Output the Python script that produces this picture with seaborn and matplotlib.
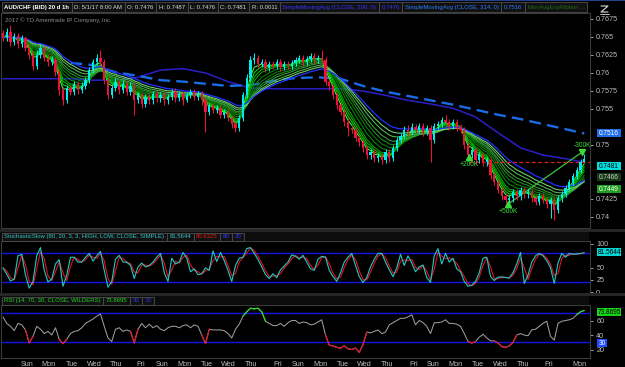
import numpy as np
import pandas as pd
import matplotlib
matplotlib.use("Agg")
import matplotlib.pyplot as plt
from matplotlib.patches import Rectangle
from matplotlib.ticker import FuncFormatter
import seaborn as sns

# ------------------------------------------------------------------ data
day_labels = ["Sun", "Mon", "Tue", "Wed", "Thu", "Fri", "Sun", "Mon", "Tue", "Wed", "Thu", "Fri",
              "Sun", "Mon", "Tue", "Wed", "Thu", "Fri", "Sun", "Mon", "Tue", "Wed", "Thu", "Fri", "Mon"]

first_open = 7655  # price x 1e4
close_p = [7649, 7657, 7643, 7651, 7640, 7649, 7635, 7625, 7610, 7625,
           7635, 7621, 7615, 7618, 7601, 7576, 7562, 7579, 7574, 7585,
           7576, 7582, 7590, 7604, 7615, 7621, 7615, 7590, 7569, 7579,
           7588, 7576, 7585, 7574, 7582, 7562, 7569, 7557, 7567, 7562,
           7571, 7565, 7569, 7562, 7567, 7574, 7565, 7571, 7563, 7569,
           7574, 7567, 7571, 7562, 7546, 7554, 7549, 7551, 7542, 7546,
           7538, 7529, 7524, 7538, 7569, 7593, 7618, 7621, 7612, 7615,
           7607, 7612, 7610, 7615, 7608, 7612, 7610, 7614, 7618, 7621,
           7615, 7619, 7624, 7618, 7621, 7618, 7588, 7582, 7569, 7556,
           7546, 7532, 7524, 7521, 7510, 7504, 7496, 7486, 7490, 7482,
           7485, 7479, 7490, 7482, 7496, 7507, 7513, 7521, 7518, 7525,
           7521, 7526, 7518, 7524, 7507, 7526, 7529, 7535, 7532, 7526,
           7532, 7525, 7521, 7500, 7486, 7493, 7479, 7486, 7476, 7479,
           7458, 7449, 7438, 7429, 7424, 7426, 7435, 7429, 7438, 7432,
           7435, 7426, 7421, 7429, 7424, 7418, 7424, 7410, 7426, 7432,
           7440, 7449, 7457, 7465, 7476, 7481]
high_p = [7660, 7662, 7667, 7655, 7656, 7653, 7652, 7640, 7630, 7632,
          7640, 7638, 7626, 7623, 7622, 7606, 7580, 7583, 7583, 7589,
          7589, 7587, 7594, 7608, 7619, 7626, 7632, 7619, 7594, 7584,
          7593, 7592, 7590, 7589, 7587, 7586, 7574, 7573, 7571, 7571,
          7575, 7575, 7573, 7574, 7571, 7578, 7579, 7575, 7575, 7573,
          7578, 7578, 7575, 7575, 7566, 7558, 7558, 7555, 7555, 7550,
          7550, 7542, 7533, 7542, 7574, 7598, 7623, 7628, 7625, 7619,
          7619, 7616, 7616, 7619, 7619, 7616, 7616, 7618, 7622, 7625,
          7625, 7623, 7628, 7628, 7625, 7632, 7622, 7592, 7586, 7573,
          7560, 7550, 7537, 7528, 7525, 7514, 7508, 7500, 7495, 7494,
          7489, 7489, 7494, 7495, 7500, 7511, 7517, 7526, 7528, 7530,
          7529, 7530, 7531, 7528, 7528, 7530, 7533, 7539, 7542, 7536,
          7536, 7536, 7529, 7525, 7504, 7497, 7497, 7490, 7490, 7483,
          7483, 7462, 7453, 7442, 7433, 7430, 7439, 7439, 7442, 7442,
          7439, 7439, 7430, 7433, 7433, 7428, 7428, 7428, 7430, 7436,
          7444, 7453, 7461, 7469, 7481, 7487]
low_p = [7645, 7644, 7638, 7639, 7635, 7636, 7630, 7620, 7604, 7606,
         7621, 7617, 7610, 7611, 7596, 7570, 7555, 7558, 7569, 7570,
         7571, 7572, 7578, 7586, 7600, 7611, 7610, 7585, 7564, 7565,
         7575, 7571, 7572, 7569, 7570, 7542, 7558, 7552, 7553, 7557,
         7557, 7560, 7560, 7556, 7557, 7563, 7560, 7561, 7556, 7559,
         7565, 7562, 7563, 7556, 7518, 7541, 7544, 7544, 7537, 7538,
         7533, 7524, 7518, 7520, 7534, 7565, 7589, 7612, 7607, 7608,
         7602, 7603, 7605, 7606, 7603, 7604, 7605, 7606, 7610, 7614,
         7610, 7611, 7615, 7613, 7614, 7613, 7583, 7577, 7564, 7550,
         7541, 7527, 7512, 7516, 7505, 7499, 7490, 7480, 7481, 7476,
         7477, 7474, 7475, 7477, 7478, 7492, 7503, 7509, 7513, 7514,
         7516, 7517, 7513, 7514, 7476, 7503, 7522, 7525, 7527, 7521,
         7522, 7520, 7516, 7495, 7481, 7482, 7474, 7475, 7471, 7471,
         7453, 7444, 7433, 7424, 7419, 7419, 7421, 7424, 7424, 7427,
         7427, 7421, 7416, 7416, 7419, 7413, 7399, 7396, 7405, 7421,
         7428, 7436, 7445, 7453, 7461, 7476]

# simple moving averages, one reading per day-step (x 1e4)
sma200_pts = [7592, 7592, 7592, 7592, 7590, 7590, 7594, 7604, 7606, 7600, 7588, 7579, 7578, 7578,
              7578, 7578, 7575, 7569, 7562, 7557, 7551, 7539, 7517, 7496, 7486, 7481, 7476]
sma314_pts = [np.nan, np.nan, np.nan, 7614, 7611, 7601, 7596, 7590, 7588, 7585, 7582, 7583, 7589, 7593,
              7594, 7592, 7582, 7574, 7568, 7562, 7556, 7549, 7542, 7536, 7529, 7522, 7516]

stoch_k = [50, 37, 23, 27, 75, 78, 35, 8, 22, 75,
           92, 45, 21, 27, 58, 67, 12, 35, 72, 72,
           62, 62, 72, 80, 64, 75, 84, 45, 10, 22,
           68, 76, 62, 62, 55, 28, 52, 60, 52, 55,
           62, 72, 80, 40, 22, 70, 58, 62, 82, 70,
           42, 48, 36, 38, 50, 45, 85, 63, 82, 65,
           45, 22, 55, 70, 72, 90, 92, 80, 67, 52,
           36, 28, 38, 30, 46, 54, 62, 77, 74, 68,
           76, 62, 48, 45, 68, 74, 72, 45, 32, 22,
           40, 62, 72, 80, 55, 32, 20, 30, 52, 68,
           80, 80, 62, 46, 32, 50, 78, 55, 75, 60,
           42, 52, 56, 30, 20, 75, 90, 58, 80, 62,
           70, 48, 42, 22, 12, 14, 22, 40, 70, 72,
           32, 24, 31, 31, 30, 29, 40, 58, 82, 18,
           35, 62, 75, 80, 75, 65, 50, 18, 60, 80,
           72, 80, 78, 79, 79.7006, 81.5644]

rsi_vals = [65, 56, 52, 46, 56, 54, 47, 29, 38, 52,
            48, 42, 45, 40, 50, 34, 28, 34, 42, 45,
            46, 50, 56, 59, 62, 66, 69, 52, 36, 31,
            48, 50, 45, 47, 45, 29, 48, 56, 50, 55,
            50, 53, 48, 46, 50, 52, 52, 50, 53, 54,
            50, 54, 52, 40, 28, 48, 47, 47, 47, 46,
            42, 36, 48, 55, 66, 72, 77, 76, 77, 72,
            59, 56, 53, 53, 56, 52, 57, 60, 60, 56,
            58, 57, 54, 55, 58, 61, 40, 26, 25, 23,
            22, 25, 21, 20, 22, 16, 27, 44, 43, 45,
            47, 42, 44, 54, 57, 60, 63, 63, 65, 68,
            54, 60, 57, 52, 42, 57, 57, 58, 61, 56,
            56, 55, 52, 42, 31, 29, 31, 37, 41, 36,
            32, 32, 29, 24, 23, 25, 30, 40, 42, 40,
            39, 47, 48, 52, 56, 59, 38, 33, 56, 59,
            60, 61, 63, 68, 72, 73.8695]

trade_text = ["+200K", "+500K", "-300K"]
trade_bar = [124.3, 134.7, 154.4]
trade_price = [0.7483, 0.7418, 0.7490]

ribbon_spans = [3, 4, 5, 6, 8, 10, 12, 14, 17, 20]
blue_span = 24
price_ticks = [0.74, 0.7425, 0.75, 0.755, 0.7575, 0.76, 0.7625, 0.765, 0.7675]
stoch_ticks = [0, 25, 50, 100]
rsi_ticks = [20, 40, 60]

# ------------------------------------------------------------------ style
sns.set_theme(style="dark")
plt.rcParams["font.family"] = ["Liberation Sans", "DejaVu Sans"]
plt.rcParams["axes.facecolor"] = "black"

W, H = 625, 367
fig = plt.figure(figsize=(W / 100, H / 100), dpi=100, facecolor="black")


def pax(x0, y0, x1, y1):
    return fig.add_axes([x0 / W, 1 - y1 / H, (x1 - x0) / W, (y1 - y0) / H])


CYAN = "#00ecec"
RED = "#f0103a"
AXC = "#bcbcbc"
XLIM = (-0.53, 156.53)

df = pd.DataFrame({"close": np.array(close_p) / 1e4,
                   "high": np.array(high_p) / 1e4,
                   "low": np.array(low_p) / 1e4})
df["bar"] = np.arange(len(df))
df["open"] = np.r_[first_open / 1e4, df["close"].values[:-1]]
n = len(df)
ma_bars = np.r_[np.arange(0, n, 6), n - 1]


def style_panel(ax):
    ax.set_facecolor("black")
    for sp in ax.spines.values():
        sp.set_color("#3a3a3a")
        sp.set_linewidth(0.8)
    ax.yaxis.tick_right()
    ax.tick_params(axis="y", colors=AXC, labelsize=5.2, length=2, width=0.6, pad=2.5, right=True, left=False)
    ax.tick_params(axis="x", bottom=False, labelbottom=False)
    ax.set_xlim(*XLIM)
    ax.grid(False)


# ------------------------------------------------------------------ price panel
ax = pax(1, 13, 590, 228)
ribbon_cols = ["#3cff3c", "#00e000", "#00c400", "#00a800", "#008f00", "#0c820c",
               "#1f921f", "#36a636", "#52bf52", "#74d874"]
for sp_, col in zip(ribbon_spans, ribbon_cols):
    ema = df["close"].ewm(span=sp_, adjust=False).mean()
    sns.lineplot(x=df["bar"], y=ema, ax=ax, color=col, lw=0.75, zorder=2)
ema_b = df["close"].ewm(span=blue_span, adjust=False).mean()
sns.lineplot(x=df["bar"], y=ema_b, ax=ax, color="#2233ff", lw=0.9, zorder=2)

sns.lineplot(x=ma_bars, y=np.array(sma200_pts) / 1e4, ax=ax, color="#2a1fc8", lw=1.1, zorder=1)
sns.lineplot(x=ma_bars, y=np.array(sma314_pts) / 1e4, ax=ax, color="#1a6be6", lw=1.7,
             linestyle=(0, (5, 2.6)), zorder=1)

up = df["close"] >= df["open"]
cols = np.where(up, CYAN, RED)
ax.vlines(df["bar"], df["low"], df["high"], colors=cols, lw=0.75, zorder=4)
body = np.maximum((df["close"] - df["open"]).abs(), 0.00004)
ax.bar(df["bar"], body, bottom=np.minimum(df["open"], df["close"]), width=0.66,
       color=cols, linewidth=0, zorder=5)

# trades
ax.plot([trade_bar[1], trade_bar[2]], [trade_price[1], trade_price[2]], color="#3fc43f", lw=0.9, zorder=3)
ax.hlines(df["close"].iloc[-1] - 0.0005, trade_bar[0], XLIM[1], colors="#d42020", lw=0.9,
          linestyles=(0, (3, 2)), zorder=3)
for t, b, p in zip(trade_text, trade_bar, trade_price):
    buy = t.startswith("+")
    ax.plot(b, p, marker="^" if buy else "v", color="#3ddc3d", ms=4.5, zorder=6)
    ax.annotate(t, (b, p), xytext=(0, -5.5 if buy else 5), textcoords="offset points",
                ha="center", va="center", color="#3ddc3d", fontsize=4.8, zorder=6)

ax.set_ylim(0.73847, 0.76833)
ax.set_yticks(price_ticks)
ax.yaxis.set_major_formatter(FuncFormatter(lambda v, _: f"{v:g}"))
style_panel(ax)
ax.set_xlabel("")
ax.set_ylabel("")

# ------------------------------------------------------------------ stochastic panel
ax2 = pax(1, 241, 590, 294)
k = pd.Series(stoch_k, dtype=float)
d = k.rolling(2, min_periods=1).mean()
ax2.axhline(80, color="#1414e6", lw=1.0, zorder=1)
ax2.axhline(20, color="#1414e6", lw=1.0, zorder=1)
sns.lineplot(x=df["bar"], y=d.values, ax=ax2, color="#e0141e", lw=0.8, zorder=2)
sns.lineplot(x=df["bar"], y=k.values, ax=ax2, color="#22c8c8", lw=0.8, zorder=3)
ax2.set_ylim(-4, 105.6)
ax2.set_yticks(stoch_ticks)
style_panel(ax2)
ax2.set_xlabel("")
ax2.set_ylabel("")

# ------------------------------------------------------------------ RSI panel
ax3 = pax(1, 305, 590, 358)
r = np.array(rsi_vals, dtype=float)
ax3.axhline(70, color="#1414e6", lw=1.0, zorder=1)
ax3.axhline(30, color="#1414e6", lw=1.0, zorder=1)
sns.lineplot(x=df["bar"], y=r, ax=ax3, color="#9c9c9c", lw=0.75, zorder=2)
hi_m = r >= 70
lo_m = r <= 30
hi_ext = hi_m | np.r_[hi_m[1:], False] | np.r_[False, hi_m[:-1]]
lo_ext = lo_m | np.r_[lo_m[1:], False] | np.r_[False, lo_m[:-1]]
ax3.plot(df["bar"], np.where(hi_ext, r, np.nan), color="#22dd22", lw=0.85, zorder=3)
ax3.plot(df["bar"], np.where(lo_ext, r, np.nan), color="#e0142a", lw=0.85, zorder=3)
ax3.set_ylim(8.3, 81.4)
ax3.set_yticks(rsi_ticks)
style_panel(ax3)
tick_px = [26.7, 48.6, 71.7, 94.5, 116.4, 140.7, 162.6, 184.5, 207.3, 228.8, 251, 277.8, 298, 320,
           342.8, 364.7, 387.4, 413.3, 433.6, 455.6, 478.3, 500.6, 523, 548.8, 579.9]
ax3.set_xticks([(p - 3) / 3.75 for p in tick_px])
ax3.set_xticklabels(day_labels)
ax3.tick_params(axis="x", bottom=False, labelbottom=True, colors=AXC, labelsize=5.2, pad=1.8, length=0)
ax3.set_xlabel("")
ax3.set_ylabel("")

# ------------------------------------------------------------------ overlay: headers, bubbles
ov = pax(0, 0, W, H)
ov.set_xlim(0, W)
ov.set_ylim(H, 0)
ov.axis("off")
ov.patch.set_alpha(0)
ov.set_zorder(10)

ov.add_patch(Rectangle((0, 0), W, 1.3, color="#1d4390", lw=0))
ov.add_patch(Rectangle((0, 228.5), W, 3.5, color="#262626", lw=0))
ov.add_patch(Rectangle((0, 292.5), W, 3.5, color="#262626", lw=0))
ov.add_patch(Rectangle((0, 232), 589, 9, color="#0c0c0c", lw=0))
ov.add_patch(Rectangle((0, 296), 589, 9, color="#0c0c0c", lw=0))

renderer = fig.canvas.get_renderer()


def header_row(items, y0, y1, fs, x=1.5, pad=2.6):
    for txt, col, bold in items:
        t = ov.text(x + pad, (y0 + y1) / 2 + 0.3, txt, color=col, fontsize=fs, ha="left", va="center",
                    fontweight="bold" if bold else "normal", zorder=3)
        w = t.get_window_extent(renderer).width
        ov.add_patch(Rectangle((x, y0), w + 2 * pad, y1 - y0, facecolor="#111111", edgecolor="#4e4e4e",
                               lw=0.6, zorder=2))
        x += w + 2 * pad
    return x


last = df.iloc[-1]
header_row([("AUD/CHF (BID) 20 d 1h", "white", True),
            ("D: 5/1/17 8:00 AM", "#d6d6d6", False),
            (f"O: {last['open']:.4f}", "#d6d6d6", False),
            (f"H: {last['high']:.4f}", "#d6d6d6", False),
            (f"L: {last['low']:.4f}", "#d6d6d6", False),
            (f"C: {last['close']:.4f}", "#d6d6d6", False),
            (f"R: {last['high'] - last['low']:.4f}", "#d6d6d6", False),
            ("SimpleMovingAvg (CLOSE, 200, 0)", "#3535ff", False),
            (f"{sma200_pts[-1] / 1e4:.4f}", "#3535ff", False),
            ("SimpleMovingAvg (CLOSE, 314, 0)", "#2a7cff", False),
            (f"{sma314_pts[-1] / 1e4:.4f}", "#2a7cff", False),
            ("MovAvgExpRibbon ...", "#1d6b1d", False)], 2, 12, 4.3)

header_row([("StochasticSlow (80, 20, 3, 3, HIGH, LOW, CLOSE, SIMPLE)", "#33c6c6", False),
            (f"{k.iloc[-1]:.4f}", "#33c6c6", False),
            (f"{d.iloc[-1]:.4f}", "#e01a1a", False),
            ("80", "#3333ff", False), ("20", "#3333ff", False)], 232.5, 240.5, 4.3)
header_row([("RSI (14, 70, 30, CLOSE, WILDERS)", "#22d022", False),
            (f"{r[-1]:.4f}", "#22d022", False),
            ("30", "#3333ff", False), ("70", "#3333ff", False)], 296.5, 304.5, 4.3)

ov.text(5, 20, "2017 \u00a9 TD Ameritrade IP Company, Inc.", color="#8c8c8c", fontsize=4.3,
        ha="left", va="center")

# small scale icon top right
ov.plot([601, 608, 601, 608], [6, 6, 12, 12], color="#dcdcdc", lw=0.8)
ov.plot([600, 609], [13.5, 13.5], color="#dcdcdc", lw=0.6)


# value bubbles on the right scale
def bubble(txt, yc, bg, fg, w=24):
    ov.add_patch(Rectangle((597, yc - 4), w, 8, facecolor=bg, edgecolor="none", zorder=4))
    ov.text(597 + w / 2, yc + 0.3, txt, color=fg, fontsize=4.7, ha="center", va="center", zorder=5)


bubble(f"{sma314_pts[-1] / 1e4:.4f}", 133, "#1f6fe8", "white")
bubble(f"{last['close']:.4f}", 166, "#00dede", "black")
bubble("0.7466", 177, "#173817", "#cfcfcf")
bubble("0.7449", 189, "#1f9e1f", "white")
bubble(f"{k.iloc[-1]:.4f}", 252, "#00d6d6", "black")
bubble(f"{r[-1]:.4f}", 312, "#18d418", "black")
bubble("30", 343, "#1f48ff", "white", w=10)

fig.savefig("out.png", dpi=100, facecolor="black")
